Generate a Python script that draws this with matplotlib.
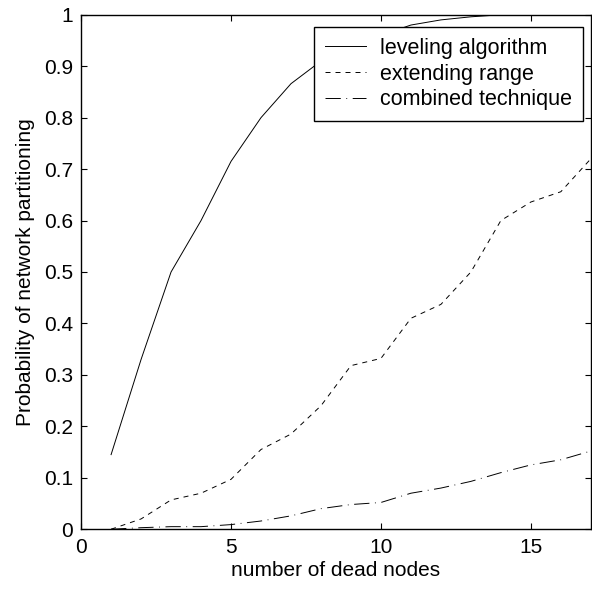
import matplotlib
matplotlib.use('Agg')
import matplotlib.pyplot as plt
import numpy as np

plt.rcParams['font.family'] = ['Liberation Sans', 'DejaVu Sans']
plt.rcParams['lines.scale_dashes'] = False

nodes = list(range(1, 18))
leveling = [0.145, 0.33, 0.50, 0.60, 0.715, 0.80, 0.866, 0.91, 0.94, 0.96,
            0.98, 0.99, 0.996, 1.0, 1.0, 1.0, 1.0]
extending = [0.0, 0.02, 0.057, 0.07, 0.097, 0.155, 0.185, 0.24, 0.318, 0.332,
             0.41, 0.437, 0.50, 0.60, 0.636, 0.656, 0.72]
combined = [0.0, 0.003, 0.005, 0.005, 0.009, 0.016, 0.026, 0.04, 0.048, 0.052,
            0.07, 0.08, 0.093, 0.11, 0.125, 0.135, 0.152]

fs = 15
fig = plt.figure(figsize=(5.92, 5.90), dpi=100)
ax = fig.add_axes([0.137, 0.103, 0.861, 0.872])

ax.plot(nodes, leveling, color='black', lw=0.7, linestyle='-', label='leveling algorithm')
ax.plot(nodes, extending, color='black', lw=0.7, linestyle=(0, (3.6, 3.6)), label='extending range')
ax.plot(nodes, combined, color='black', lw=0.7, linestyle=(0, (11, 4, 0.6, 4)), label='combined technique')

ax.set_xlim(0, 17)
ax.set_ylim(0, 1)
ax.set_xticks([0, 5, 10, 15])
ax.set_yticks(np.arange(0, 1.01, 0.1))
ax.set_yticklabels(['0', '0.1', '0.2', '0.3', '0.4', '0.5', '0.6', '0.7', '0.8', '0.9', '1'])
ax.tick_params(direction='in', top=True, right=True, length=4, width=0.8, labelsize=fs, pad=6)
for s in ax.spines.values():
    s.set_linewidth(1.0)

ax.set_xlabel('number of dead nodes', fontsize=fs, labelpad=3)
ax.set_ylabel('Probability of network partitioning', fontsize=fs, labelpad=6)

leg = ax.legend(loc='upper right', bbox_to_anchor=(0.985, 0.954), bbox_transform=fig.transFigure,
                fancybox=False, edgecolor='black', framealpha=1, fontsize=15.5,
                handlelength=1.9, handletextpad=0.66, borderaxespad=0, labelspacing=0.22,
                borderpad=0.5)
leg.get_frame().set_linewidth(1.0)

fig.savefig('out.png', dpi=100)
